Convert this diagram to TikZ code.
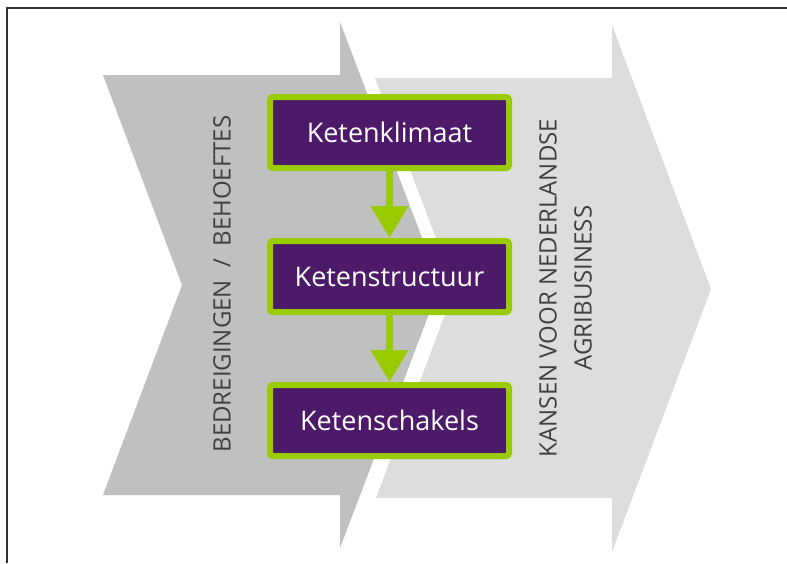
\documentclass[tikz,border=0pt]{standalone}
\usepackage{fontspec}
\setmainfont{Open Sans}
\usetikzlibrary{positioning,arrows.meta}
\definecolor{ketenpaars}{HTML}{4C1A68}
\definecolor{ketengroen}{HTML}{99CC00}
\definecolor{chevdonker}{HTML}{C0C0C0}
\definecolor{chevlicht}{HTML}{DDDDDD}
\definecolor{tekstgrijs}{HTML}{404040}

\begin{document}
\begin{tikzpicture}[x=1pt,y=-1pt,node distance=67pt]
	\tikzstyle{keten_box}=[draw=ketengroen, fill=ketenpaars, line width=6pt, rounded corners=3pt, minimum width=239pt, minimum height=71pt, text=white, font=\fontsize{27}{30}\selectfont];
	\tikzstyle{keten_pijl}=[ketengroen, line width=7pt, -{Triangle[width=36pt,length=32pt]}];
	\tikzstyle{chev_tekst}=[text=tekstgrijs, rotate=90, align=center, font=\fontsize{24}{35}\selectfont];

	\useasboundingbox (0,0) rectangle (787,563);
	\draw[line width=1.6pt, black!80] (7,563) -- (7,8) -- (787,8);

	\fill[chevdonker] (103,75) -- (340,75) -- (340,22) -- (440,285) -- (340,548) -- (340,495) -- (103,495) -- (182,285) -- cycle;
	\fill[chevlicht] (375,78) -- (612,78) -- (612,25) -- (711,289) -- (612,552) -- (612,498) -- (376,498) -- (455,288) -- cycle;

	\node[keten_box] (k_klimaat) at (389.5,132.5) {Ketenklimaat};
	\node[keten_box, below = of k_klimaat] (k_structuur) {Ketenstructuur};
	\node[keten_box, below = of k_structuur] (k_schakels) {Ketenschakels};

	\draw[keten_pijl] (k_klimaat) -- (k_structuur);
	\draw[keten_pijl] (k_structuur) -- (k_schakels);

	\node[chev_tekst] (t_bedreiging) at (222,284) {BEDREIGINGEN~~/~~BEHOEFTES};
	\node[chev_tekst] (t_kansen) at (565.5,288) {KANSEN VOOR NEDERLANDSE\\AGRIBUSINESS};
\end{tikzpicture}
\end{document}
